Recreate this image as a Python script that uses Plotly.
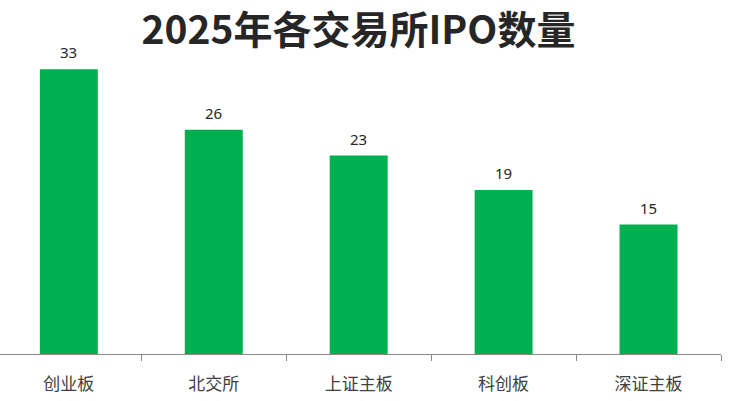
import plotly.graph_objects as go

categories = ["创业板", "北交所", "上证主板", "科创板", "深证主板"]
values = [33, 26, 23, 19, 15]
title_text = "2025年各交易所IPO数量"

fig = go.Figure()
fig.add_trace(go.Bar(
    x=categories, y=values, width=0.4,
    marker=dict(color="#00B050", line=dict(width=0)),
    hoverinfo="x+y",
))
for c, v in zip(categories, values):
    fig.add_annotation(x=c, y=v, text=str(v), showarrow=False, yanchor="middle", yshift=17,
                       font=dict(family="Noto Sans, Noto Sans CJK SC", size=15, color="#262626"))
fig.update_layout(
    width=736, height=401,
    margin=dict(l=0, r=15, t=52, b=47),
    paper_bgcolor="white", plot_bgcolor="white",
    showlegend=False,
    title=dict(text="<b>" + title_text + "</b>", x=0.487, xanchor="center", y=0.925, yanchor="middle",
               font=dict(family="Noto Sans CJK SC", size=39, color="#262626")),
    xaxis=dict(type="category", range=[-0.475, 4.5], tickson="boundaries",
               ticks="outside", ticklen=6, tickcolor="#888888", tickwidth=1,
               showline=True, linecolor="#888888", linewidth=1,
               ticklabelstandoff=15,
               tickfont=dict(family="Noto Sans CJK SC", size=17, color="#404040"),
               showgrid=False),
    yaxis=dict(range=[0, 35], visible=False, showgrid=False, zeroline=False),
)
fig.write_html("out.html")
